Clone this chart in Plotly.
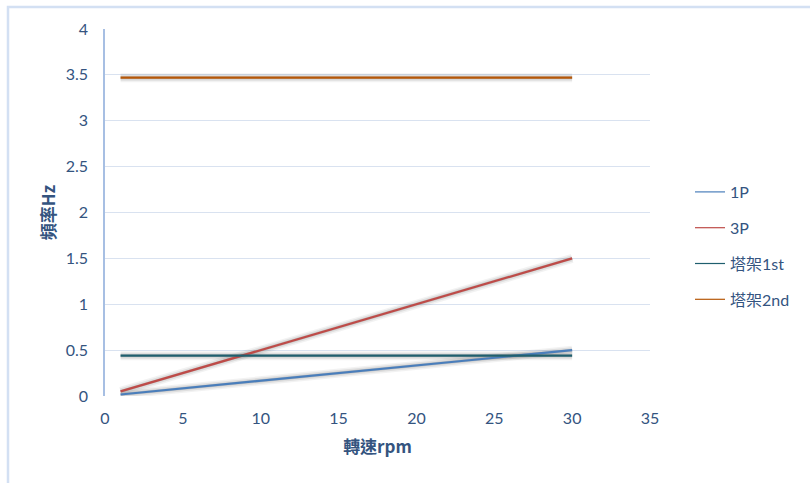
import plotly.graph_objects as go

# Rotor speed (rpm) and frequencies (Hz)
rpm = [1, 30]
freq_1p = [0.0167, 0.5]
freq_3p = [0.05, 1.5]
tower_1st = [0.44, 0.44]
tower_2nd = [3.47, 3.47]

names = ["1P", "3P", "塔架1st", "塔架2nd"]
series = [freq_1p, freq_3p, tower_1st, tower_2nd]
colors = ["#4a7ebb", "#be4b48", "#1f5f6e", "#b65708"]

W, H = 810, 483
ml, mr, mt, mb = 105, 159, 29, 82
pw = W - ml - mr
ph = H - mt - mb
dx = 1 / pw      # shadow offset, right
dy = 5 / ph      # shadow offset, down

fig = go.Figure()

# soft drop shadows on a shifted overlay axis pair (x2/y2)
for ys in series:
    for width, alpha in [(9, 0.05), (6, 0.08), (3, 0.12)]:
        fig.add_trace(go.Scatter(
            x=rpm, y=ys, mode="lines", xaxis="x2", yaxis="y2",
            line=dict(color=f"rgba(0,0,0,{alpha})", width=width),
            showlegend=False, hoverinfo="skip"))

# main lines on their own overlay (x3/y3), drawn above the shadows
for name, ys, c in zip(names, series, colors):
    fig.add_trace(go.Scatter(
        x=rpm, y=ys, mode="lines", name=name, xaxis="x3", yaxis="y3",
        line=dict(color=c, width=2.2), showlegend=False))

# legend entries with thin samples
for i, (name, c) in enumerate(zip(names, colors)):
    fig.add_trace(go.Scatter(
        x=[None], y=[None], mode="lines", name=name,
        line=dict(color=c, width=1.2), legendgroup=f"g{i}"))

text_color = "#34547f"
tick_font = dict(family="Lato, Carlito, sans-serif", size=16, color=text_color)
title_font = dict(family="Noto Sans CJK TC, sans-serif", size=17, color=text_color)

fig.update_layout(
    width=W, height=H,
    margin=dict(l=ml, r=mr, t=mt, b=mb),
    paper_bgcolor="white", plot_bgcolor="white",
    xaxis=dict(
        domain=[0, 1 - dx], range=[0, 35], dtick=5, tick0=0,
        showgrid=False, zeroline=False, showline=False,
        ticks="outside", ticklen=8, tickcolor="rgba(0,0,0,0)",
        tickfont=tick_font,
        title=dict(text="<b>轉速rpm</b>", font=title_font, standoff=14),
    ),
    yaxis=dict(
        domain=[dy, 1], range=[0, 4], dtick=0.5, tick0=0,
        showgrid=True, gridcolor="#d9e2f0", gridwidth=1,
        zeroline=False,
        showline=True, linecolor="#a7bfe3", linewidth=1.5,
        ticks="outside", ticklen=12, tickcolor="rgba(0,0,0,0)",
        tickfont=tick_font,
        title=dict(text="<b>頻率Hz</b>", font=title_font, standoff=6),
    ),
    xaxis2=dict(domain=[dx, 1], range=[0, 35], overlaying="x",
                visible=False, anchor="y2"),
    yaxis2=dict(domain=[0, 1 - dy], range=[0, 4], overlaying="y",
                visible=False, anchor="x2"),
    xaxis3=dict(domain=[0, 1 - dx], range=[0, 35], overlaying="x",
                visible=False, anchor="y3"),
    yaxis3=dict(domain=[dy, 1], range=[0, 4], overlaying="y",
                visible=False, anchor="x3"),
    legend=dict(
        x=(690 - ml) / pw, xanchor="left",
        y=(H - mb - 246) / ph, yanchor="middle",
        font=dict(family="Lato, Noto Sans CJK TC, sans-serif", size=16, color=text_color),
        tracegroupgap=12, bgcolor="rgba(0,0,0,0)",
    ),
    showlegend=True,
)

# chart frame
fig.add_shape(type="rect", xref="paper", yref="paper",
              x0=-(ml - 8) / pw, x1=(W + 5 - ml) / pw,
              y0=-(mb + 10) / ph, y1=1 + (mt - 7) / ph,
              line=dict(color="#d3e0f3", width=2.5), layer="below")

fig.write_html("out.html")
